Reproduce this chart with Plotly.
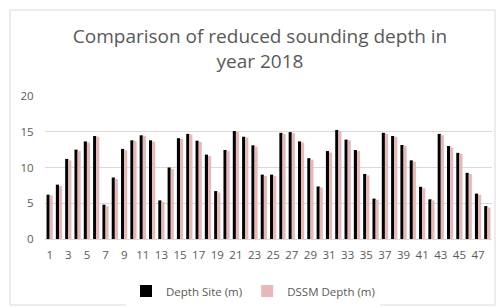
import plotly.graph_objects as go

categories = list(range(1, 49))
depth_site = [6.2, 7.6, 11.2, 12.5, 13.65, 14.4, 4.8, 8.6, 12.6, 13.8,
              14.5, 13.8, 5.4, 10.0, 14.1, 14.7, 13.75, 11.8, 6.7, 12.45,
              15.1, 14.3, 13.1, 9.0, 9.0, 14.85, 14.95, 13.65, 11.3, 7.35,
              12.3, 15.25, 13.9, 12.45, 9.1, 5.65, 14.85, 14.4, 13.15, 11.0,
              7.3, 5.55, 14.7, 13.0, 12.05, 9.25, 6.35, 4.6]
dssm_depth = [6.1, 7.4, 11.0, 12.3, 13.5, 14.3, 4.6, 8.4, 12.4, 13.7,
              14.4, 13.6, 5.2, 9.8, 14.0, 14.6, 13.6, 11.6, 6.5, 12.3,
              15.0, 14.2, 12.9, 8.8, 8.8, 14.7, 14.8, 13.5, 11.1, 7.2,
              12.1, 15.1, 13.8, 12.3, 8.9, 5.5, 14.7, 14.3, 13.0, 10.8,
              7.1, 5.4, 14.5, 12.8, 11.9, 9.1, 6.2, 4.4]
x_ticks = list(range(1, 48, 2))
y_ticks = [0, 5, 10, 15, 20]

GRAY = "#595959"
FONT = "Open Sans"

fig = go.Figure()
fig.add_trace(go.Bar(x=categories, y=depth_site, name="Depth Site (m)",
                     marker=dict(color="#000000", line=dict(width=0))))
fig.add_trace(go.Bar(x=categories, y=dssm_depth, name="DSSM Depth (m)",
                     marker=dict(color="#E6B9B8", line=dict(width=0))))

fig.update_layout(
    width=496, height=308,
    margin=dict(l=45, r=4, t=96, b=69),
    paper_bgcolor="white", plot_bgcolor="white",
    barmode="group", bargap=0.33, bargroupgap=0,
    font=dict(family=FONT, color=GRAY, size=11),
    title=dict(text="Comparison of reduced sounding depth in<br>year 2018",
               x=260/496, xanchor="center", xref="container",
               y=1 - 43/308, yanchor="top", yref="container",
               font=dict(family=FONT, size=19, color=GRAY)),
    showlegend=True,
    legend=dict(orientation="h", x=253/496, xanchor="center", xref="container",
                y=1 - 291/308, yanchor="middle", yref="container",
                font=dict(family=FONT, size=11.5, color=GRAY),
                itemwidth=30, traceorder="normal"),
    shapes=[dict(type="rect", xref="paper", yref="paper",
                 x0=(10 - 45) / 447, x1=(495 - 45) / 447,
                 y0=(239 - 305) / 143, y1=(239 - 10) / 143,
                 line=dict(color="#D9D9D9", width=1), fillcolor="rgba(0,0,0,0)",
                 layer="above")],
)
fig.update_xaxes(range=[0.5, 48.5], tickvals=x_ticks, ticktext=[str(v) for v in x_ticks],
                 showgrid=False, zeroline=False, showline=True, linecolor="#D9D9D9",
                 ticks="outside", ticklen=5, tickcolor="rgba(0,0,0,0)",
                 tickfont=dict(family=FONT, size=11.5, color=GRAY))
fig.update_yaxes(range=[0, 20], tickvals=y_ticks, showgrid=True, gridcolor="#D9D9D9",
                 zeroline=False, showline=False,
                 ticks="outside", ticklen=8, tickcolor="rgba(0,0,0,0)",
                 tickfont=dict(family=FONT, size=11.5, color=GRAY))

fig.write_html("out.html", config={"displayModeBar": False},
               post_script="document.body.style.margin='0';")
